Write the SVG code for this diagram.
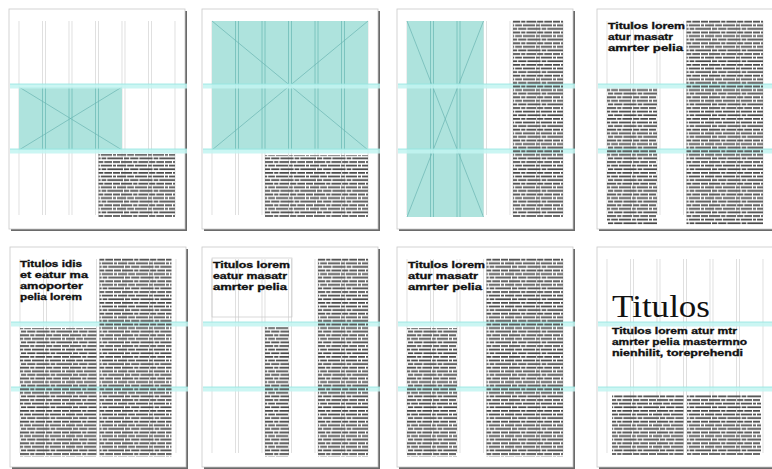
<svg xmlns="http://www.w3.org/2000/svg" xmlns:xlink="http://www.w3.org/1999/xlink" width="772" height="469" viewBox="0 0 772 469">
<style>
.shadow{fill:#6a6a6a}
.page{fill:#ffffff;stroke:#c8c8c8;stroke-width:0.8}
.grid line{stroke:#d2d2d2;stroke-width:0.7}
.gridimg line{stroke:#6fbcb8;stroke-width:0.8}
.img{fill:#aee3dd}
.diag{stroke:#6ab5b1;stroke-width:0.7;fill:none}
.band{fill:#c2f4f1;opacity:0.85}
.bandline{stroke:#93e4df;stroke-width:0.8}
.txt{fill:url(#txt)}
.title{font-family:"Liberation Sans","Arial",sans-serif;font-weight:bold;fill:#111;stroke:#111;stroke-width:0.35}
.serif{font-family:"Liberation Serif","Times New Roman",serif;fill:#111}
.box{fill:none;stroke:#c8c8c8;stroke-width:0.7}
</style>
<defs>
<pattern id="txt" width="52" height="10.8" patternUnits="userSpaceOnUse">
<g fill="#474747">
<rect x="0" y="1" width="7" height="1.7"/>
<rect x="8" y="1" width="11.2" height="1.7"/>
<rect x="20.2" y="1" width="4.2" height="1.7"/>
<rect x="25.4" y="1" width="9.7" height="1.7"/>
<rect x="36.1" y="1" width="6.2" height="1.7"/>
<rect x="43.3" y="1" width="7.7" height="1.7"/>
<rect x="0" y="4.6" width="3" height="1.7"/>
<rect x="4" y="4.6" width="9.2" height="1.7"/>
<rect x="14.2" y="4.6" width="6.7" height="1.7"/>
<rect x="21.9" y="4.6" width="12.2" height="1.7"/>
<rect x="35.1" y="4.6" width="3.7" height="1.7"/>
<rect x="39.8" y="4.6" width="11.2" height="1.7"/>
<rect x="0" y="8.2" width="10" height="1.7"/>
<rect x="11" y="8.2" width="5.2" height="1.7"/>
<rect x="17.2" y="8.2" width="8.2" height="1.7"/>
<rect x="26.4" y="8.2" width="13.2" height="1.7"/>
<rect x="40.6" y="8.2" width="4.7" height="1.7"/>
<rect x="46.3" y="8.2" width="5.7" height="1.7"/>
</g>
</pattern>
<g id="gridV" class="grid">
<line x1="10" y1="12" x2="10" y2="206"/>
<line x1="33.5" y1="12" x2="33.5" y2="206"/>
<line x1="36.5" y1="12" x2="36.5" y2="206"/>
<line x1="60" y1="12" x2="60" y2="206"/>
<line x1="63" y1="12" x2="63" y2="206"/>
<line x1="86.5" y1="12" x2="86.5" y2="206"/>
<line x1="89.5" y1="12" x2="89.5" y2="206"/>
<line x1="113" y1="12" x2="113" y2="206"/>
<line x1="116" y1="12" x2="116" y2="206"/>
<line x1="139.5" y1="12" x2="139.5" y2="206"/>
<line x1="142.5" y1="12" x2="142.5" y2="206"/>
<line x1="166" y1="12" x2="166" y2="206"/>
</g>
<g id="bands">
<rect class="band" x="1" y="75" width="177" height="4.5"/>
<line class="bandline" x1="1" y1="75" x2="178" y2="75"/>
<rect class="band" x="1" y="140" width="177" height="4.5"/>
<line class="bandline" x1="1" y1="140" x2="178" y2="140"/>
</g>
<g id="sheet">
<rect class="shadow" x="2" y="2" width="176" height="220"/>
<rect class="page" x="0" y="0" width="176" height="220"/>
</g>
</defs>

<g id="page1" transform="translate(9,9)">
<use xlink:href="#sheet"/>
<use xlink:href="#gridV"/>
<rect class="img" x="10" y="78" width="103" height="63"/>
<g class="gridimg">
<line x1="33.5" y1="78" x2="33.5" y2="141"/><line x1="36.5" y1="78" x2="36.5" y2="141"/>
<line x1="60" y1="78" x2="60" y2="141"/><line x1="63" y1="78" x2="63" y2="141"/>
<line x1="86.5" y1="78" x2="86.5" y2="141"/><line x1="89.5" y1="78" x2="89.5" y2="141"/>
</g>
<path class="diag" d="M10 78 L113 141 M113 78 L10 141"/>
<use xlink:href="#bands"/>
<rect class="txt" x="89.5" y="145" width="76.5" height="63"/>
</g>

<g id="page2" transform="translate(202,9)">
<use xlink:href="#sheet"/>
<use xlink:href="#gridV"/>
<rect class="img" x="10" y="12" width="156" height="129"/>
<g class="gridimg">
<line x1="33.5" y1="12" x2="33.5" y2="141"/><line x1="36.5" y1="12" x2="36.5" y2="141"/>
<line x1="60" y1="12" x2="60" y2="141"/><line x1="63" y1="12" x2="63" y2="141"/>
<line x1="86.5" y1="12" x2="86.5" y2="141"/><line x1="89.5" y1="12" x2="89.5" y2="141"/>
<line x1="113" y1="12" x2="113" y2="141"/><line x1="116" y1="12" x2="116" y2="141"/>
<line x1="139.5" y1="12" x2="139.5" y2="141"/><line x1="142.5" y1="12" x2="142.5" y2="141"/>
</g>
<path class="diag" d="M10 12 L166 141 M166 12 L10 141"/>
<use xlink:href="#bands"/>
<rect class="txt" x="63" y="146" width="103" height="62"/>
</g>

<g id="page3" transform="translate(397,9)">
<use xlink:href="#sheet"/>
<use xlink:href="#gridV"/>
<rect class="img" x="10" y="12" width="76.5" height="196"/>
<g class="gridimg">
<line x1="33.5" y1="12" x2="33.5" y2="208"/><line x1="36.5" y1="12" x2="36.5" y2="208"/>
<line x1="60" y1="12" x2="60" y2="208"/><line x1="63" y1="12" x2="63" y2="208"/>
</g>
<path class="diag" d="M10 12 L86.5 208 M86.5 12 L10 208"/>
<use xlink:href="#bands"/>
<rect class="txt" x="116" y="11" width="50" height="197"/>
</g>

<g id="page4" transform="translate(597,9)">
<use xlink:href="#sheet"/>
<use xlink:href="#gridV"/>
<use xlink:href="#bands"/>
<text class="title" x="11" y="20" font-size="9.8" textLength="77" lengthAdjust="spacingAndGlyphs">Titulos lorem</text>
<text class="title" x="11" y="31" font-size="9.8" textLength="65" lengthAdjust="spacingAndGlyphs">atur masatr</text>
<text class="title" x="11" y="42" font-size="9.8" textLength="75" lengthAdjust="spacingAndGlyphs">amrter pelia</text>
<rect class="txt" x="89.5" y="11" width="76.5" height="205"/>
<rect class="txt" x="10" y="79" width="50" height="137"/>
</g>

<g id="page5" transform="translate(10,247)">
<use xlink:href="#sheet"/>
<use xlink:href="#gridV"/>
<use xlink:href="#bands"/>
<text class="title" x="10" y="20" font-size="9.8" textLength="62" lengthAdjust="spacingAndGlyphs">Titulos idis</text>
<text class="title" x="10" y="31" font-size="9.8" textLength="68" lengthAdjust="spacingAndGlyphs">et eatur ma</text>
<text class="title" x="10" y="42" font-size="9.8" textLength="63" lengthAdjust="spacingAndGlyphs">amoporter</text>
<text class="title" x="10" y="53" font-size="9.8" textLength="62" lengthAdjust="spacingAndGlyphs">pelia lorem</text>
<rect class="txt" x="10" y="81" width="76.5" height="129"/>
<rect class="txt" x="89.5" y="11" width="72" height="199"/>
</g>

<g id="page6" transform="translate(202,247)">
<use xlink:href="#sheet"/>
<use xlink:href="#gridV"/>
<use xlink:href="#bands"/>
<rect class="box" x="10" y="11" width="80" height="59"/>
<text class="title" x="11" y="21" font-size="9.8" textLength="77" lengthAdjust="spacingAndGlyphs">Titulos lorem</text>
<text class="title" x="11" y="32" font-size="9.8" textLength="74" lengthAdjust="spacingAndGlyphs">eatur masatr</text>
<text class="title" x="11" y="43" font-size="9.8" textLength="74" lengthAdjust="spacingAndGlyphs">amrter pelia</text>
<rect class="txt" x="63" y="80" width="24" height="130"/>
<rect class="txt" x="116" y="11" width="50" height="199"/>
</g>

<g id="page7" transform="translate(397,247)">
<use xlink:href="#sheet"/>
<use xlink:href="#gridV"/>
<use xlink:href="#bands"/>
<text class="title" x="11" y="21" font-size="9.8" textLength="77" lengthAdjust="spacingAndGlyphs">Titulos lorem</text>
<text class="title" x="11" y="32" font-size="9.8" textLength="70" lengthAdjust="spacingAndGlyphs">atur masatr</text>
<text class="title" x="11" y="43" font-size="9.8" textLength="74" lengthAdjust="spacingAndGlyphs">amrter pelia</text>
<rect class="txt" x="10" y="81" width="50" height="129"/>
<rect class="txt" x="89.5" y="11" width="76.5" height="199"/>
</g>

<g id="page8" transform="translate(597,247)">
<use xlink:href="#sheet"/>
<use xlink:href="#gridV"/>
<use xlink:href="#bands"/>
<text class="serif" x="15" y="70" font-size="32" textLength="98" lengthAdjust="spacingAndGlyphs">Titulos</text>
<text class="title" x="15" y="87" font-size="9.8" textLength="125" lengthAdjust="spacingAndGlyphs">Titulos lorem atur mtr</text>
<text class="title" x="15" y="98" font-size="9.8" textLength="135" lengthAdjust="spacingAndGlyphs">amrter pelia mastermno</text>
<text class="title" x="15" y="109" font-size="9.8" textLength="131" lengthAdjust="spacingAndGlyphs">nienhilit, toreprehendi</text>
<rect class="txt" x="15" y="148" width="71.5" height="60"/>
<rect class="txt" x="90" y="148" width="74" height="60"/>
</g>
</svg>
